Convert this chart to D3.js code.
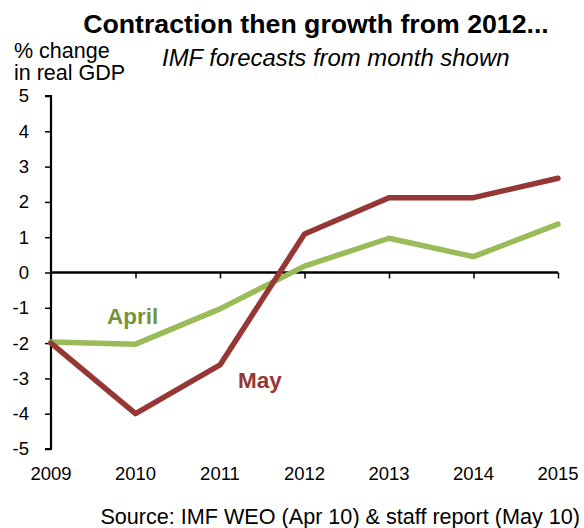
<!DOCTYPE html>
<html>
<head>
<meta charset="utf-8">
<script src="https://cdn.jsdelivr.net/npm/d3@7"></script>
<style>
  html, body { margin: 0; padding: 0; background: #fff; }
  svg { display: block; font-family: "Liberation Sans", Arial, sans-serif; }
</style>
</head>
<body>
<svg id="chart" width="584" height="528"></svg>
<script>
// Real GDP growth forecasts, % change
const years = [2009, 2010, 2011, 2012, 2013, 2014, 2015];
const april = [-1.97, -2.03, -1.03, 0.18, 0.97, 0.45, 1.37];
const may = [-2.0, -4.0, -2.62, 1.09, 2.12, 2.12, 2.67];
const yTicks = [-5, -4, -3, -2, -1, 0, 1, 2, 3, 4, 5];

const svg = d3.select("#chart");

const x = d3.scalePoint().domain(years).range([51, 558]);
const y = d3.scaleLinear().domain([-5, 5]).range([449, 96]);

// Titles
svg.append("text").attr("x", 316).attr("y", 33).attr("text-anchor", "middle")
  .attr("font-size", 26.7).attr("font-weight", "bold").attr("fill", "#000")
  .text("Contraction then growth from 2012...");
svg.append("text").attr("x", 14).attr("y", 58).attr("font-size", 21.5).attr("fill", "#000")
  .text("% change");
svg.append("text").attr("x", 14).attr("y", 80).attr("font-size", 21.5).attr("fill", "#000")
  .text("in real GDP");
svg.append("text").attr("x", 162).attr("y", 66).attr("font-size", 23.9)
  .attr("font-style", "italic").attr("fill", "#000")
  .text("IMF forecasts from month shown");

// Y axis
const yAxis = d3.axisLeft(y).tickValues(yTicks).tickSize(6).tickPadding(16)
  .tickFormat(d => String(d));
const gy = svg.append("g").attr("transform", `translate(${x(2009)},0)`).call(yAxis);
gy.select(".domain").attr("stroke", "#000").attr("stroke-width", 2.2)
  .attr("d", `M-6,${y(5)}H0V${y(-5)}H-6`);
gy.selectAll(".tick line").attr("stroke", "#000").attr("stroke-width", 1.5);
gy.selectAll(".tick text").attr("font-size", 18.5).attr("fill", "#000")
  .attr("font-family", "Liberation Sans, Arial, sans-serif");

// X axis along zero line
const xAxis = d3.axisBottom(x).tickSize(6).tickFormat("");
const gx = svg.append("g").attr("transform", `translate(0,${y(0)})`).call(xAxis);
gx.select(".domain").attr("stroke", "#000").attr("stroke-width", 2.5)
  .attr("d", `M${x(2009)},0H${x(2015)}`);
gx.selectAll(".tick line").attr("stroke", "#000").attr("stroke-width", 1.5);
gx.selectAll(".tick").filter(d => d === 2009).remove();

// Year labels below the plot
svg.append("g").selectAll("text").data(years).join("text")
  .attr("x", d => x(d)).attr("y", 480).attr("text-anchor", "middle")
  .attr("font-size", 18.5).attr("fill", "#000").text(d => d);

// Series lines
const line = d3.line().x((d, i) => x(years[i])).y(d => y(d));
svg.append("path").datum(april).attr("d", line).attr("fill", "none")
  .attr("stroke", "#9BBB59").attr("stroke-width", 5.5).attr("stroke-linejoin", "round")
  .attr("stroke-linecap", "round");
svg.append("path").datum(may).attr("d", line).attr("fill", "none")
  .attr("stroke", "#953735").attr("stroke-width", 5.5).attr("stroke-linejoin", "round")
  .attr("stroke-linecap", "round");

// Series labels
svg.append("text").attr("x", 107).attr("y", 324).attr("font-size", 22.5)
  .attr("font-weight", "bold").attr("fill", "#77933C").text("April");
svg.append("text").attr("x", 238).attr("y", 388).attr("font-size", 22.5)
  .attr("font-weight", "bold").attr("fill", "#953735").text("May");

// Source note
svg.append("text").attr("x", 580).attr("y", 524).attr("text-anchor", "end")
  .attr("font-size", 21.6).attr("fill", "#000")
  .text("Source: IMF WEO (Apr 10) & staff report  (May 10)");
</script>
</body>
</html>
